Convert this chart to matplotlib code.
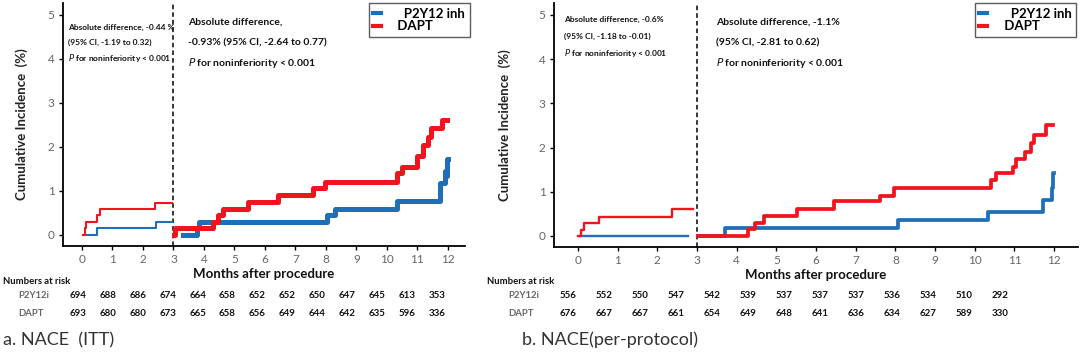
import numpy as np
import matplotlib.pyplot as plt

plt.rcParams['font.family'] = ['Lato', 'DejaVu Sans']

BLUE = '#1f6fb8'
RED = '#f0141e'

# ---- panel a (ITT) ----
a_blue_early_t = [0.05, 0.48, 2.42, 2.95]
a_blue_early_v = [0.0, 0.15, 0.30, 0.30]
a_red_early_t = [0.05, 0.10, 0.15, 0.50, 0.60, 2.40, 2.95]
a_red_early_v = [0.0, 0.15, 0.30, 0.45, 0.58, 0.73, 0.73]
a_blue_late_t = [3.30, 3.76, 3.85, 8.02, 8.30, 10.32, 11.74, 11.90, 11.95, 11.98, 12.0]
a_blue_late_v = [0.0, 0.15, 0.30, 0.45, 0.60, 0.78, 1.17, 1.45, 1.35, 1.72, 1.72]
a_red_late_t = [3.02, 3.05, 4.30, 4.47, 4.63, 5.45, 6.44, 7.58, 7.97, 10.32, 10.48,
                10.97, 11.19, 11.36, 11.46, 11.79, 11.96]
a_red_late_v = [0.0, 0.15, 0.30, 0.45, 0.60, 0.75, 0.91, 1.06, 1.21, 1.40, 1.55,
                1.80, 2.05, 2.23, 2.42, 2.61, 2.61]
a_risk_p2y12 = [694, 688, 686, 674, 664, 658, 652, 652, 650, 647, 645, 613, 353]
a_risk_dapt = [693, 680, 680, 673, 665, 658, 656, 649, 644, 642, 635, 596, 336]

# ---- panel b (per-protocol) ----
b_blue_early_t = [0.05, 2.78]
b_blue_early_v = [0.0, 0.0]
b_red_early_t = [0.0, 0.09, 0.15, 0.53, 2.36, 2.90]
b_red_early_v = [0.0, 0.14, 0.30, 0.44, 0.60, 0.60]
b_blue_late_t = [3.02, 3.70, 8.07, 10.34, 11.73, 11.94, 11.98, 12.0]
b_blue_late_v = [0.0, 0.18, 0.36, 0.55, 0.81, 1.08, 1.42, 1.42]
b_red_late_t = [3.02, 4.29, 4.46, 4.70, 5.51, 6.46, 7.61, 7.97, 10.40, 10.54,
                10.97, 11.04, 11.27, 11.42, 11.50, 11.80, 11.98]
b_red_late_v = [0.0, 0.15, 0.30, 0.45, 0.60, 0.78, 0.90, 1.08, 1.27, 1.42,
                1.57, 1.73, 1.91, 2.11, 2.29, 2.51, 2.51]
b_risk_p2y12 = [556, 552, 550, 547, 542, 539, 537, 537, 537, 536, 534, 510, 292]
b_risk_dapt = [676, 667, 667, 661, 654, 649, 648, 641, 636, 634, 627, 589, 330]

months = list(range(13))

fig = plt.figure(figsize=(10.8, 3.53), dpi=100)
W, H = 1080, 353


def px_axes(l, t, r, b):
    return fig.add_axes([l / W, 1 - b / H, (r - l) / W, (b - t) / H])


def style_ax(ax, xlim, ypad):
    ax.set_xlim(*xlim)
    ax.set_ylim(-0.25, 5.27)
    ax.set_xticks(months)
    ax.set_yticks(range(6))
    for s in ['top', 'right']:
        ax.spines[s].set_visible(False)
    for s in ['left', 'bottom']:
        ax.spines[s].set_linewidth(1.3)
    ax.tick_params(labelsize=8.5, labelcolor='#666666', length=3, width=1, pad=3)
    ax.set_ylabel('Cumulative Incidence  (%)', fontsize=9.5, fontweight='bold',
                  color='#222222', labelpad=ypad)
    ax.set_xlabel('Months after procedure', fontsize=9.5, fontweight='bold',
                  color='#111111', labelpad=2)
    ax.axvline(3, color='black', ls=(0, (3, 2)), lw=1.1)


def legend(ax, anchor_x):
    h1, = ax.plot([], [], color=BLUE, lw=3, label='   P2Y12 inh')
    h2, = ax.plot([], [], color=RED, lw=3, label=' DAPT')
    leg = ax.legend(handles=[h1, h2], loc='upper right', bbox_to_anchor=(anchor_x, 1.0),
                    frameon=True, fancybox=False, edgecolor='#333333',
                    handlelength=0.6, borderpad=0.35, labelspacing=0.05,
                    handletextpad=1.0, borderaxespad=0.0,
                    prop={'weight': 'bold', 'size': 9.5})
    leg.get_frame().set_linewidth(1.0)


# panel a
ax1 = px_axes(63, 3, 465, 246)
style_ax(ax1, (-0.62, 12.56), 14)
ax1.step(a_blue_early_t, a_blue_early_v, where='post', color=BLUE, lw=1.5)
ax1.step(a_red_early_t, a_red_early_v, where='post', color=RED, lw=1.5)
ax1.step(a_blue_late_t, a_blue_late_v, where='post', color=BLUE, lw=3.6)
ax1.step(a_red_late_t, a_red_late_v, where='post', color=RED, lw=3.6)
legend(ax1, 1.012)

sm = dict(fontsize=6, fontweight='bold', color='#111111', transform=ax1.transAxes, va='center')
ax1.text(5 / 402, 1 - 24 / 243, 'Absolute difference, -0.44 %', **sm)
ax1.text(5 / 402, 1 - 39 / 243, '(95% CI, -1.19 to 0.32)', **sm)
ax1.text(5 / 402, 1 - 55 / 243, r'$\it{P}$ for noninferiority < 0.001', **sm)
lg = dict(fontsize=7.5, fontweight='bold', color='#111111', transform=ax1.transAxes, va='center')
ax1.text(125 / 402, 1 - 19 / 243, 'Absolute difference,', **lg)
ax1.text(125 / 402, 1 - 40 / 243, '-0.93% (95% CI, -2.64 to 0.77)', **lg)
ax1.text(125 / 402, 1 - 60 / 243, r'$\it{P}$ for noninferiority < 0.001', **lg)

# panel b
ax2 = px_axes(554, 3, 1078, 247)
style_ax(ax2, (-0.6, 12.6), 20)
ax2.step(b_blue_early_t, b_blue_early_v, where='post', color=BLUE, lw=1.7)
ax2.step(b_red_early_t, b_red_early_v, where='post', color=RED, lw=1.7)
ax2.step(b_blue_late_t, b_blue_late_v, where='post', color=BLUE, lw=2.7)
ax2.step(b_red_late_t, b_red_late_v, where='post', color=RED, lw=2.7)
legend(ax2, 0.996)

sm['transform'] = ax2.transAxes
lg['transform'] = ax2.transAxes
ax2.text(10 / 524, 1 - 16 / 244, 'Absolute difference, -0.6%', **sm)
ax2.text(10 / 524, 1 - 33 / 244, '(95% CI, -1.18 to -0.01)', **sm)
ax2.text(10 / 524, 1 - 50 / 244, r'$\it{P}$ for noninferiority < 0.001', **sm)
ax2.text(162 / 524, 1 - 19 / 244, 'Absolute difference, -1.1%', **lg)
ax2.text(162 / 524, 1 - 40 / 244, '(95% CI, -2.81 to 0.62)', **lg)
ax2.text(162 / 524, 1 - 60 / 244, r'$\it{P}$ for noninferiority < 0.001', **lg)


def risk_table(x0, lab_x, first_x, step, p2, dapt):
    fig.text(x0 / W, 1 - 281 / H, 'Numbers at risk', fontsize=6.8, fontweight='bold',
             color='#111111', va='center')
    fig.text(lab_x / W, 1 - 296 / H, 'P2Y12i', fontsize=6.8, fontweight='bold',
             color='#666666', va='center')
    fig.text(lab_x / W, 1 - 313 / H, 'DAPT', fontsize=6.8, fontweight='bold',
             color='#666666', va='center')
    for i, (p, d) in enumerate(zip(p2, dapt)):
        x = (first_x + i * step) / W
        fig.text(x, 1 - 296 / H, str(p), fontsize=7, fontweight='bold',
                 color='#111111', ha='center', va='center')
        fig.text(x, 1 - 313 / H, str(d), fontsize=7, fontweight='bold',
                 color='#111111', ha='center', va='center')


risk_table(3, 18, 78, 29.9, a_risk_p2y12, a_risk_dapt)
risk_table(487, 508, 568, 36.0, b_risk_p2y12, b_risk_dapt)
fig.text(3 / W, 1 - 340 / H, 'a. NACE  (ITT)', fontsize=13, color='#333333', va='center')
fig.text(522 / W, 1 - 340 / H, 'b. NACE(per-protocol)', fontsize=13, color='#333333', va='center')

fig.savefig('out.png', dpi=100)
